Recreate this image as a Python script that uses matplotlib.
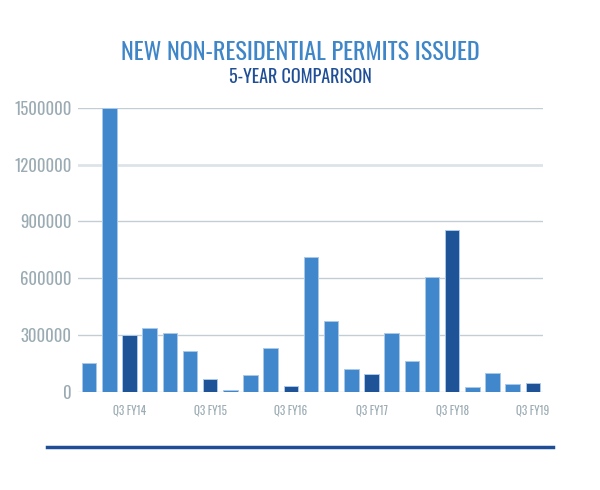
import matplotlib
matplotlib.use('Agg')
import matplotlib.pyplot as plt
from matplotlib import font_manager
from matplotlib.lines import Line2D

# quarterly permit values
quarters = ['Q1 FY14', 'Q2 FY14', 'Q3 FY14', 'Q4 FY14',
            'Q1 FY15', 'Q2 FY15', 'Q3 FY15', 'Q4 FY15',
            'Q1 FY16', 'Q2 FY16', 'Q3 FY16', 'Q4 FY16',
            'Q1 FY17', 'Q2 FY17', 'Q3 FY17', 'Q4 FY17',
            'Q1 FY18', 'Q2 FY18', 'Q3 FY18', 'Q4 FY18',
            'Q1 FY19', 'Q2 FY19', 'Q3 FY19']
permits = [153000, 1500000, 300000, 338000,
           311000, 218000, 70000, 12000,
           88000, 232000, 30000, 713000,
           377000, 121000, 97000, 311000,
           162000, 605000, 857000, 28000,
           102000, 40000, 49000]
y_ticks = [0, 300000, 600000, 900000, 1200000, 1500000]

# pick a narrow font if there is one
names = {f.name for f in font_manager.fontManager.ttflist}
narrow = 'DejaVu Sans'
for cand in ['Oswald', 'Roboto Condensed', 'Liberation Sans Narrow', 'Open Sans Condensed']:
    if cand in names:
        narrow = cand
        break
font = dict(family=narrow, stretch='condensed', weight='light')

light = '#4087cb'
dark = '#1f5398'
grey = '#9aabb3'

fig = plt.figure(figsize=(6, 4.9), dpi=100)
fig.patch.set_facecolor('white')
ax = fig.add_axes([0.13, 0.2, 0.775, 0.58])

x = list(range(len(permits)))
colors = [dark if q.startswith('Q3') else light for q in quarters]
ax.bar(x, permits, width=0.72, color=colors, edgecolor='#a9c9ea', linewidth=0.7, zorder=3)

# gridlines
for v in y_ticks:
    if v == 1200000:
        ax.axhline(v, color='#dde3e8', linewidth=2, zorder=1)
    else:
        ax.axhline(v, color='#c2ced4', linewidth=1, zorder=1)

ax.set_xlim(-0.55, len(permits) - 0.5)
ax.set_ylim(0, 1500000)

ax.set_yticks(y_ticks)
ax.set_yticklabels([str(v) for v in y_ticks], color=grey, fontsize=12, **font)
q3 = [i for i, q in enumerate(quarters) if q.startswith('Q3')]
ax.set_xticks(q3)
ax.set_xticklabels([quarters[i] for i in q3], color=grey, fontsize=8, **font)
ax.tick_params(axis='y', length=0, pad=4.5)
ax.tick_params(axis='x', length=0, pad=9)
for s in ax.spines.values():
    s.set_visible(False)

fig.text(0.5, 0.893, 'NEW NON-RESIDENTIAL PERMITS ISSUED', ha='center', va='center',
         color='#3f86c8', fontsize=17.5, **font)
fig.text(0.5, 0.843, '5-YEAR COMPARISON', ha='center', va='center',
         color='#1f4e96', fontsize=13, **font)

fig.add_artist(Line2D([0.078, 0.922], [0.088, 0.088], color='#1f4e96', linewidth=2.5,
                      transform=fig.transFigure))

plt.savefig('out.png', dpi=100, facecolor='white')
